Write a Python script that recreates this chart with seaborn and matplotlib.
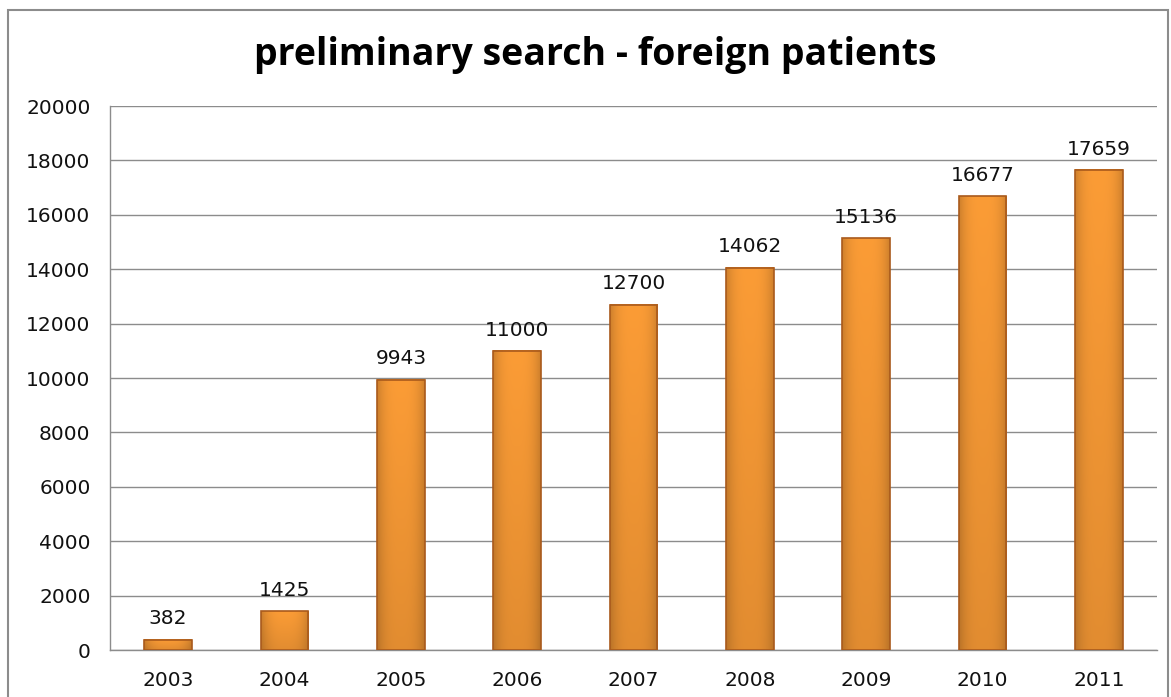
import matplotlib
matplotlib.use("Agg")
import matplotlib.pyplot as plt
import matplotlib.colors as mcolors
import seaborn as sns
import numpy as np
import pandas as pd
from matplotlib.patches import Rectangle

years = ["2003", "2004", "2005", "2006", "2007", "2008", "2009", "2010", "2011"]
patients = [382, 1425, 9943, 11000, 12700, 14062, 15136, 16677, 17659]
y_ticks = [0, 2000, 4000, 6000, 8000, 10000, 12000, 14000, 16000, 18000, 20000]

df = pd.DataFrame({"year": years, "patients": patients})

sns.set_style("white")
plt.rcParams["font.family"] = ["DejaVu Sans"]

fig = plt.figure(figsize=(11.71, 6.97), dpi=100)
ax = fig.add_axes([110 / 1171, 47 / 697, 1047 / 1171, 544 / 697])

sns.barplot(data=df, x="year", y="patients", color="#F7952F", saturation=1,
            width=0.41, edgecolor="#A95A1C", linewidth=1.2, ax=ax, zorder=3)

# shading for the bevelled look
base = np.array(mcolors.to_rgb("#FB9C36"))
t = np.linspace(0, 1, 60)
horiz = 1 - 0.18 * np.abs(2 * t - 1) ** 3
for patch in ax.patches:
    x0, y0 = patch.get_x(), patch.get_y()
    w, h = patch.get_width(), patch.get_height()
    vert = np.linspace(1.0, 0.9, 60)[:, None]
    img = np.clip(base[None, None, :] * horiz[None, :, None] * vert[:, :, None], 0, 1)
    ax.imshow(img, extent=[x0, x0 + w, y0, y0 + h], aspect="auto",
              origin="upper", zorder=3.5, clip_path=patch, clip_on=True)
    patch.set_facecolor("none")
    patch.set_zorder(4)

ax.set_ylim(0, 20000)
ax.set_xlim(-0.5, len(years) - 0.5)
ax.set_yticks(y_ticks)
ax.yaxis.grid(True, color="#8c8c8c", linewidth=1, zorder=0)
ax.set_axisbelow(True)
ax.set_xlabel("")
ax.set_ylabel("")

for side in ["top", "right"]:
    ax.spines[side].set_visible(False)
for side in ["left", "bottom"]:
    ax.spines[side].set_color("#8c8c8c")
    ax.spines[side].set_linewidth(1)

ax.tick_params(axis="y", length=7, color="#8c8c8c", labelsize=14.5, pad=7, labelcolor="#111111")
ax.tick_params(axis="x", which="major", length=0, labelsize=14.5, pad=15, labelcolor="#111111")
ax.set_xticks(np.arange(-0.5, len(years) + 0.5, 1), minor=True)
ax.tick_params(axis="x", which="minor", length=7, color="#8c8c8c", direction="out")

ax.bar_label(ax.containers[0], labels=[str(v) for v in patients], padding=8,
             fontsize=14.5, color="#111111")

fig.text(595 / 1171, 1 - 55 / 697, "preliminary search - foreign patients",
         ha="center", va="center", fontsize=27, fontweight="bold", color="black",
         family=["Open Sans", "DejaVu Sans"])

fig.patches.append(Rectangle((8 / 1171, -0.01), 1160 / 1171, 1 - 10 / 697 + 0.01,
                             transform=fig.transFigure, fill=False,
                             edgecolor="#8c8c8c", linewidth=1.5))

fig.savefig("out.png", dpi=100)
